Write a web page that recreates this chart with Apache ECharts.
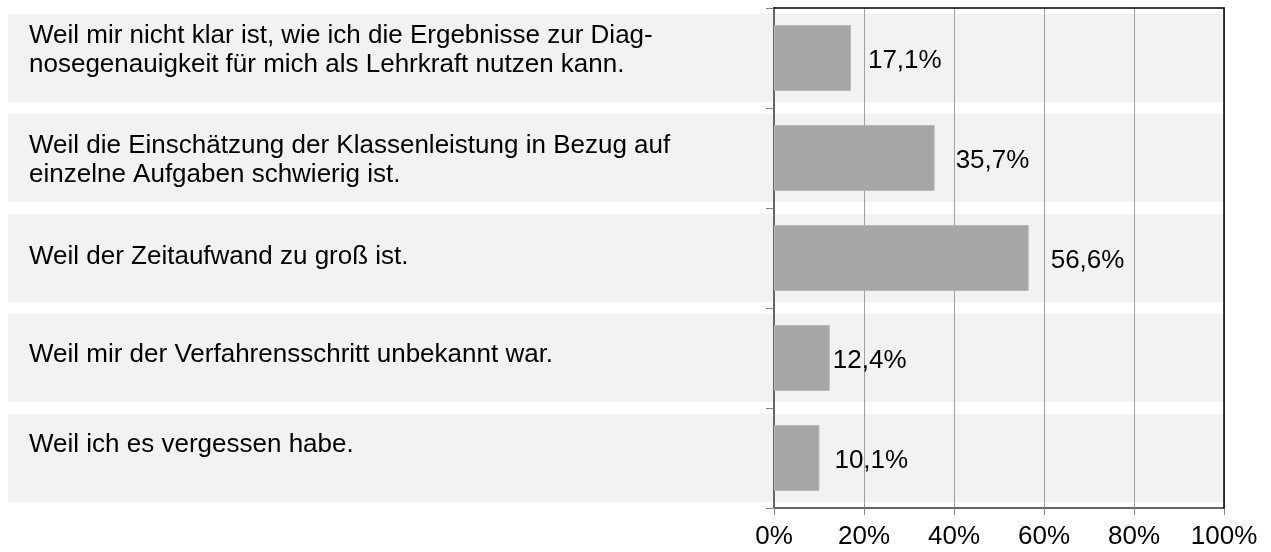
<!DOCTYPE html>
<html>
<head>
<meta charset="utf-8">
<style>
    html, body { margin: 0; padding: 0; background: #fff; }
    #chart { width: 1271px; height: 552px; }
</style>
<script src="https://cdn.jsdelivr.net/npm/echarts@6/dist/echarts.min.js"></script>
</head>
<body>
<div id="chart"></div>
<script>
// Gründe (Kategorien, von oben nach unten)
var categories = [
    'Weil mir nicht klar ist, wie ich die Ergebnisse zur Diag-\nnosegenauigkeit für mich als Lehrkraft nutzen kann.',
    'Weil die Einschätzung der Klassenleistung in Bezug auf\neinzelne Aufgaben schwierig ist.',
    'Weil der Zeitaufwand zu groß ist.',
    'Weil mir der Verfahrensschritt unbekannt war.',
    'Weil ich es vergessen habe.'
];
// Anteile in %
var values = [17.1, 35.7, 56.6, 12.4, 10.1];
// Achsenbeschriftung
var tickLabels = ['0%', '20%', '40%', '60%', '80%', '100%'];

// Abstand der Datenbeschriftung zum Balken (wie im Original verschoben)
var labelGap = [17, 21, 22, 3, 15];
// vertikale Verschiebung der Kategorietexte
var textShift = [-8, 2, -1, -3, -13];

var font = "'Liberation Sans', Arial, sans-serif";

var $chart = echarts.init(document.getElementById('chart'));

// ein rich-Stil pro Zeile, damit jede Zeile etwas verschoben werden kann
var rich = {};
textShift.forEach(function (s, i) {
    rich['r' + i] = {
        fontSize: 26, lineHeight: 29, color: '#000', fontFamily: font, align: 'left',
        padding: s < 0 ? [0, 0, -2 * s, 0] : [2 * s, 0, 0, 0]
    };
});

// schwarzer Rahmen oben und rechts
var frame = { show: true, onZero: false, lineStyle: { color: '#000', width: 1.5 } };

var option = {
    animation: false,
    textStyle: { fontFamily: font },
    grid: [
        // Hintergrundstreifen, über die ganze Breite
        { left: 8, right: 47, top: 8, bottom: 44, outerBoundsMode: 'none', containLabel: false },
        // Diagramm
        { left: 774, right: 47, top: 8, bottom: 44, outerBoundsMode: 'none', containLabel: false }
    ],
    xAxis: [
        { gridIndex: 0, type: 'value', min: 0, max: 1, show: false },
        {
            gridIndex: 1, type: 'value', min: 0, max: 100, interval: 20, z: 1,
            axisLine: { show: true, lineStyle: { color: '#666', width: 2 } },
            axisTick: { show: true, length: 7, lineStyle: { color: '#888' } },
            splitLine: { show: true, lineStyle: { color: '#a0a0a0', width: 1 } },
            axisLabel: {
                margin: 16, fontSize: 26, color: '#000', fontFamily: font,
                formatter: function (v) { return tickLabels[v / 20]; }
            }
        },
        {
            gridIndex: 1, type: 'value', min: 0, max: 100, position: 'top', z: 3,
            axisLine: frame, axisTick: { show: false }, axisLabel: { show: false },
            splitLine: { show: false }
        }
    ],
    yAxis: [
        {
            gridIndex: 0, type: 'category', inverse: true, show: false,
            data: categories
        },
        {
            gridIndex: 1, type: 'category', inverse: true, z: 1,
            data: categories,
            axisLine: { show: true, onZero: false, lineStyle: { color: '#666', width: 2 } },
            axisTick: { show: true, length: 8, lineStyle: { color: '#888' } },
            axisLabel: {
                align: 'left', margin: 745, fontSize: 26, lineHeight: 29,
                color: '#000', fontFamily: font, rich: rich,
                formatter: function (v, i) { return '{r' + i + '|' + v + '}'; }
            }
        },
        {
            gridIndex: 1, type: 'category', inverse: true, position: 'right', z: 3,
            data: categories,
            axisLine: frame, axisTick: { show: false }, axisLabel: { show: false },
            splitLine: { show: false }
        }
    ],
    series: [
        {
            // graue Zeilen hinter Text und Balken
            type: 'bar', xAxisIndex: 0, yAxisIndex: 0, silent: true, z: 0,
            barWidth: 88,
            itemStyle: { color: '#f2f2f2' },
            data: categories.map(function () { return 1; })
        },
        {
            type: 'bar', xAxisIndex: 1, yAxisIndex: 1, z: 2,
            barWidth: 66,
            itemStyle: { color: '#a6a6a6', borderColor: '#b8b8b8', borderWidth: 1 },
            data: values.map(function (v, i) {
                return { value: v, label: { distance: labelGap[i] } };
            }),
            label: {
                show: true, position: 'right', offset: [0, 3], fontSize: 26, color: '#000', fontFamily: font,
                formatter: function (p) { return p.value.toFixed(1).replace('.', ',') + '%'; }
            }
        }
    ]
};
$chart.setOption(option);
</script>
</body>
</html>
